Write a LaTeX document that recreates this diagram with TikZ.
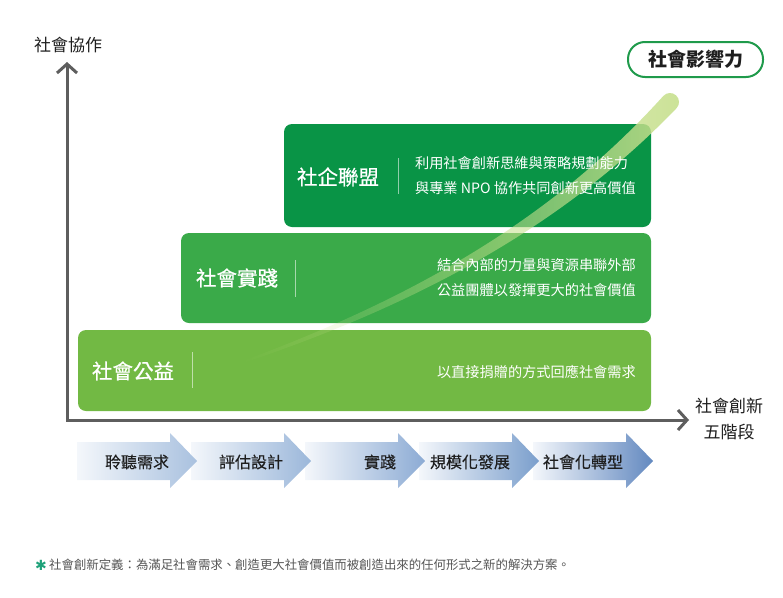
\documentclass[tikz,border=0pt]{standalone}
\usepackage{fontspec}
\setmainfont{Noto Sans CJK TC}
\newfontfamily\titlefont[FakeBold=0.7]{Noto Sans CJK TC}
\newfontfamily\stepfont[FakeBold=0.3]{Noto Sans CJK TC}
\newfontfamily\dejavu{DejaVu Sans}
\usetikzlibrary{arrows.meta,fadings}

\definecolor{boxA}{HTML}{72B944}
\definecolor{boxB}{HTML}{3AAA49}
\definecolor{boxC}{HTML}{099446}
\definecolor{curvecol}{HTML}{C6DF8C}
\definecolor{axisgray}{HTML}{5E5E5E}
\definecolor{pillgreen}{HTML}{1F9A4B}
\definecolor{footgray}{HTML}{555555}
\definecolor{astercol}{HTML}{1FA27A}
\definecolor{labeldark}{HTML}{1E1E1E}
\definecolor{arrL}{HTML}{F4F7FB}
\definecolor{arrA}{HTML}{A9C1DF}
\definecolor{arrB}{HTML}{9BB7DA}
\definecolor{arrC}{HTML}{8CABD4}
\definecolor{arrD}{HTML}{7A9ECC}
\definecolor{arrE}{HTML}{6389C0}

\tikzfading[name=curvefade, left color=transparent!100, middle color=transparent!50, right color=transparent!10]

\begin{document}
\begin{tikzpicture}[x=1pt,y=-1pt,
  stagebox/.style={draw=none, rounded corners=8pt, inner sep=0pt, outer sep=0pt, anchor=north west},
  titletext/.style={text=white, inner sep=0pt, font=\titlefont\fontsize{20.5}{24}\selectfont},
  desctext/.style={text=white, inner sep=0pt, anchor=east, font=\fontsize{14.2}{25}\selectfont},
  sepline/.style={draw=white, draw opacity=0.55, line width=0.8pt},
  axisline/.style={draw=axisgray, line width=3pt, line join=miter},
  axislabel/.style={text=labeldark, inner sep=0pt, font=\fontsize{17}{26}\selectfont},
  steptext/.style={text=labeldark, inner sep=0pt, font=\stepfont\fontsize{16}{19}\selectfont},
  chevron/.style={draw=none}
]
\useasboundingbox (0,0) rectangle (783,597);

% stage boxes
\node[stagebox, fill=boxA, minimum width=573pt, minimum height=81pt] (b1) at (78,330) {};
\node[stagebox, fill=boxB, minimum width=470pt, minimum height=90pt] (b2) at (181,233) {};
\node[stagebox, fill=boxC, minimum width=367pt, minimum height=103pt] (b3) at (284,124) {};

% impact curve (tapered, fading)
\fill[curvecol, path fading=curvefade]
  (240.33,363.94) .. controls (421.22,303.49) and (564.61,224.30) .. (676.59,108.14)
  .. controls (679.98,104.50) and (679.78,98.80) .. (676.14,95.41)
  .. controls (672.50,92.02) and (666.80,92.22) .. (663.41,95.86)
  .. controls (555.39,215.70) and (418.78,296.51) .. (239.67,362.06) -- cycle;

% titles and separators
\node[titletext] (t1) at (133,371) {社會公益};
\node[titletext] (t2) at (237,278) {社會實踐};
\node[titletext] (t3) at (338,177) {社企聯盟};
\draw[sepline] (192,352) -- (192,388);
\draw[sepline] (295,260) -- (295,297);
\draw[sepline] (398,158) -- (398,194);

% descriptions
\node[desctext, align=left] (d3) at (636,175.5) {利用社會創新思維與策略規劃能力\\與專業 NPO 協作共同創新更高價值};
\node[desctext, align=right, font=\fontsize{14.2}{24.5}\selectfont] (d2) at (636,277.5) {結合內部的力量與資源串聯外部\\公益團體以發揮更大的社會價值};
\node[desctext] (d1) at (636,372) {以直接捐贈的方式回應社會需求};

% impact pill
\node[draw=pillgreen, line width=2pt, fill=white, rounded corners=17pt,
      minimum width=135pt, minimum height=35pt, inner sep=0pt,
      font=\bfseries\fontsize{19}{22}\selectfont, text=labeldark] (impact) at (695.5,59.5) {社會影響力};

% axes
\coordinate (origin) at (67,420);
\coordinate (ytip) at (67,62);
\coordinate (xtip) at (689,420);
\draw[axisline, {Straight Barb[length=9pt,width=20pt]}-{Straight Barb[length=9pt,width=20pt]}] (ytip) -- (origin) -- (xtip);
\node[axislabel] (ylab) at (68,45) {社會協作};
\node[axislabel, align=center] (xlab) at (729,419.5) {社會創新\\五階段};

% process chevrons
\foreach \s/\c in {533/arrE, 419/arrD, 305/arrC, 191/arrB, 77/arrA} {
  \shade[chevron, left color=arrL, right color=\c]
    (\s,442) -- ++(93,0) -- ++(0,-9) -- ++(27,28) -- ++(-27,27) -- ++(0,-8) -- ++(-93,0) -- cycle;
}
\node[steptext] (s1) at (137,462) {聆聽需求};
\node[steptext] (s2) at (251,462) {評估設計};
\node[steptext] (s3) at (380,462) {實踐};
\node[steptext] (s4) at (470,462) {規模化發展};
\node[steptext] (s5) at (583,462) {社會化轉型};

% footnote
\node[text=astercol, inner sep=0pt, font=\dejavu\bfseries\fontsize{14}{15}\selectfont] (ast) at (41,565) {✱};
\node[text=footgray, inner sep=0pt, anchor=west, font=\fontsize{12.4}{15}\selectfont] (foot) at (49,565) {社會創新定義：為滿足社會需求、創造更大社會價值而被創造出來的任何形式之新的解決方案。};
\end{tikzpicture}
\end{document}
